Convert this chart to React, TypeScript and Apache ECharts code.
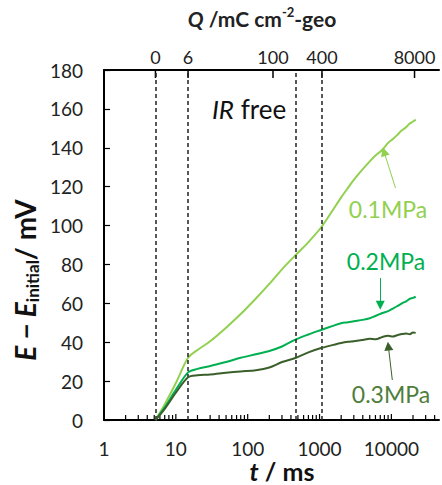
import React, { useEffect, useRef } from "react";
import * as echarts from "echarts";

const FONT = 'Lato, "Noto Sans", sans-serif';

const tValues = [5.2, 7, 10, 14.8, 20, 30, 50, 80, 130, 200, 300, 470, 700, 1050, 1500, 2000, 2500, 3000, 4000, 5000, 6000, 7500, 9000, 10500, 12000, 14000, 16000, 18000, 20000, 21800];
const mpa01 = [0, 8, 19, 32, 36, 40.5, 47.5, 54.5, 62.5, 70, 77.5, 85, 91.5, 99, 107.5, 114.5, 119.5, 123.5, 129, 133, 136, 139, 142.5, 144.5, 146.5, 149, 150.5, 152.5, 153.5, 154.5];
const mpa02 = [0, 6.5, 15.5, 24.5, 26.3, 27.8, 29.8, 32, 33.8, 35.5, 37.8, 41.5, 44, 46.3, 48.3, 49.8, 50.3, 50.8, 51.5, 52.3, 53.5, 55, 56, 57.3, 58.5, 60, 61, 62.3, 62.8, 63.5];
const mpa03 = [0, 5.7, 14, 22, 23, 23.4, 24.3, 25, 25.6, 27, 29.8, 32, 34.8, 37, 38.5, 39.6, 40.2, 40.5, 41.2, 41.8, 41.5, 42.7, 43.3, 42.9, 43.6, 44.2, 44.5, 44.1, 45, 44.8];

const dashedT = [5.2, 14.8, 470, 1080];
const qLabels = ["0", "6", "100", "400", "8000"];
const qT = [5.2, 14.8, 225, 1080, 21000];

const X_MIN = 1;
const X_MAX = 46000;
const Y_MIN = 0;
const Y_MAX = 180;

const C1 = "#92d050";
const C2 = "#00b050";
const C3 = "#3b5f2b";

function pairs(vals: number[]) {
  return tValues.map((t, i) => [t, vals[i]]);
}

export default function App() {
  const ref = useRef<HTMLDivElement>(null);
  useEffect(() => {
    if (!ref.current) return;
    const chart = echarts.init(ref.current, null, { renderer: "svg" });

    const bottomTicks: number[][] = [];
    for (let d = 1; d <= 10000; d *= 10) {
      for (let m = 1; m <= 9; m++) {
        const v = d * m;
        if (v > X_MIN && v <= X_MAX) bottomTicks.push([v, m === 1 ? 1 : 0]);
      }
    }

    const arrow = (color: string, from: number[], to: number[]) => ({
      symbol: ["none", "triangle"],
      symbolSize: 9,
      silent: true,
      label: { show: false },
      lineStyle: { color, width: 1, type: "solid" },
      data: [[{ coord: from }, { coord: to }]],
    });

    chart.setOption({
      animation: false,
      grid: { left: 104, right: 2, top: 70, bottom: 65 },
      xAxis: [
        {
          type: "log",
          logBase: 10,
          min: X_MIN,
          max: X_MAX,
          axisLine: { show: true, lineStyle: { color: "#000", width: 2 } },
          axisTick: { show: false },
          splitLine: { show: false },
          axisLabel: {
            margin: 19,
            fontSize: 19,
            color: "#222",
            fontFamily: FONT,
            formatter: (v: number) => {
              const l = Math.log10(v);
              return Math.abs(l - Math.round(l)) < 1e-6 ? String(Math.round(v)) : "";
            },
          },
        },
        {
          type: "log",
          logBase: 10,
          min: X_MIN,
          max: X_MAX,
          position: "top",
          axisLine: { show: true, lineStyle: { color: "#000", width: 2 } },
          axisTick: { show: false },
          axisLabel: { show: false },
          splitLine: { show: false },
        },
      ],
      yAxis: {
        type: "value",
        min: Y_MIN,
        max: Y_MAX,
        interval: 20,
        axisLine: { show: true, lineStyle: { color: "#000", width: 2 } },
        axisTick: { show: true, inside: true, length: 6, lineStyle: { color: "#000", width: 1.2 } },
        splitLine: { show: false },
        axisLabel: { margin: 21, fontSize: 19, color: "#222", fontFamily: FONT },
      },
      series: [
        {
          type: "line",
          data: [],
          markLine: {
            symbol: ["none", "none"],
            silent: true,
            label: { show: false },
            lineStyle: { color: "#222", width: 1.5, type: [4, 3] },
            data: dashedT.map((t) => ({ xAxis: t })),
          },
        },
        {
          name: "0.1MPa",
          type: "line",
          data: pairs(mpa01),
          showSymbol: false,
          smooth: 0.3,
          lineStyle: { color: C1, width: 2 },
          itemStyle: { color: C1 },
          z: 3,
          markLine: arrow(C1, [11400, 119.3], [7900, 138]),
        },
        {
          name: "0.2MPa",
          type: "line",
          data: pairs(mpa02),
          showSymbol: false,
          smooth: 0.3,
          lineStyle: { color: C2, width: 2 },
          itemStyle: { color: C2 },
          z: 4,
          markLine: arrow(C2, [7000, 73], [7000, 59]),
        },
        {
          name: "0.3MPa",
          type: "line",
          data: pairs(mpa03),
          showSymbol: false,
          smooth: 0.3,
          lineStyle: { color: C3, width: 2 },
          itemStyle: { color: C3 },
          z: 5,
          markLine: arrow(C3, [10300, 20.6], [9070, 38]),
        },
        {
          type: "custom",
          clip: false,
          silent: true,
          data: bottomTicks,
          renderItem: (_p: any, api: any) => {
            const pt = api.coord([api.value(0), Y_MIN]);
            const len = api.value(1) === 1 ? 6 : 5;
            return {
              type: "line",
              shape: { x1: pt[0], y1: pt[1], x2: pt[0], y2: pt[1] - len },
              style: { stroke: "#000", lineWidth: 1.2 },
            };
          },
        },
        {
          type: "custom",
          clip: false,
          silent: true,
          data: qT.map((t, i) => [t, i]),
          renderItem: (_p: any, api: any) => {
            const pt = api.coord([api.value(0), Y_MAX]);
            const label = qLabels[api.value(1)];
            return {
              type: "group",
              children: [
                {
                  type: "line",
                  shape: { x1: pt[0], y1: pt[1], x2: pt[0], y2: pt[1] + 8 },
                  style: { stroke: "#000", lineWidth: 1.5 },
                },
                {
                  type: "text",
                  x: pt[0],
                  y: pt[1] - 4,
                  style: {
                    text: label,
                    align: "center",
                    verticalAlign: "bottom",
                    textAlign: "center",
                    textVerticalAlign: "bottom",
                    fontSize: 18,
                    fontFamily: FONT,
                    fill: "#222",
                  },
                },
              ],
            };
          },
        },
      ],
      graphic: [
        {
          type: "text",
          x: 262,
          y: 16,
          style: {
            text: "{i|Q}{b| /mC cm}{s|-2}{b|-geo}",
            align: "center",
            verticalAlign: "middle",
            textAlign: "center",
            textVerticalAlign: "middle",
            fontFamily: FONT,
            fill: "#222",
            rich: {
              i: { fontSize: 21, fontWeight: "bold", fontStyle: "italic", fontFamily: FONT, fill: "#222", lineHeight: 26, verticalAlign: "bottom" },
              b: { fontSize: 21, fontWeight: "bold", fontFamily: FONT, fill: "#222", lineHeight: 26, verticalAlign: "bottom" },
              s: { fontSize: 13, fontWeight: "bold", fontFamily: FONT, fill: "#222", lineHeight: 26, verticalAlign: "top", padding: [2, 0, 0, 0] },
            },
          },
        },
        {
          type: "text",
          x: 249,
          y: 109,
          style: {
            text: "{i|IR}{n| free}",
            align: "center",
            verticalAlign: "middle",
            textAlign: "center",
            textVerticalAlign: "middle",
            rich: {
              i: { fontSize: 26, fontStyle: "italic", fontFamily: FONT, fill: "#111" },
              n: { fontSize: 26, fontFamily: FONT, fill: "#111" },
            },
          },
        },
        {
          type: "text",
          x: 388,
          y: 209,
          style: { text: "0.1MPa", align: "center", verticalAlign: "middle", textAlign: "center", textVerticalAlign: "middle", fontSize: 23, fontFamily: FONT, fill: C1 },
        },
        {
          type: "text",
          x: 386,
          y: 261,
          style: { text: "0.2MPa", align: "center", verticalAlign: "middle", textAlign: "center", textVerticalAlign: "middle", fontSize: 23, fontFamily: FONT, fill: C2 },
        },
        {
          type: "text",
          x: 391,
          y: 394,
          style: { text: "0.3MPa", align: "center", verticalAlign: "middle", textAlign: "center", textVerticalAlign: "middle", fontSize: 23, fontFamily: FONT, fill: "#4e7d3c" },
        },
        {
          type: "text",
          x: 282,
          y: 471,
          style: {
            text: "{i|t}{b| / ms}",
            align: "center",
            verticalAlign: "middle",
            textAlign: "center",
            textVerticalAlign: "middle",
            rich: {
              i: { fontSize: 25, fontWeight: "bold", fontStyle: "italic", fontFamily: FONT, fill: "#111" },
              b: { fontSize: 25, fontWeight: "bold", fontFamily: FONT, fill: "#111" },
            },
          },
        },
        {
          type: "text",
          x: 25,
          y: 280,
          rotation: Math.PI / 2,
          style: {
            text: "{i|E − E}{s|initial}{b|/ mV}",
            align: "center",
            verticalAlign: "middle",
            textAlign: "center",
            textVerticalAlign: "middle",
            rich: {
              i: { fontSize: 28, fontWeight: "bold", fontStyle: "italic", fontFamily: FONT, fill: "#111", lineHeight: 32, verticalAlign: "middle" },
              s: { fontSize: 17, fontWeight: "bold", fontFamily: FONT, fill: "#111", lineHeight: 32, verticalAlign: "bottom", padding: [13, 0, 0, 0] },
              b: { fontSize: 28, fontWeight: "bold", fontFamily: FONT, fill: "#111", lineHeight: 32, verticalAlign: "middle" },
            },
          },
        },
      ],
    });
    return () => chart.dispose();
  }, []);
  return <div ref={ref} style={{ position: "absolute", left: 0, top: 0, width: 442, height: 485 }} />;
}
